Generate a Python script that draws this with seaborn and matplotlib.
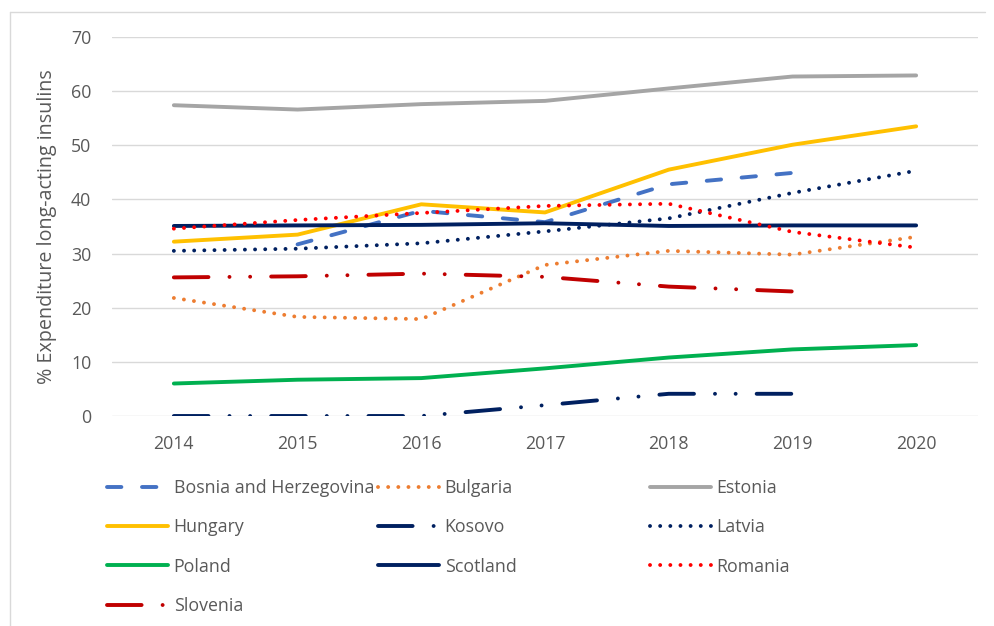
import numpy as np
import matplotlib
matplotlib.use('Agg')
import matplotlib.pyplot as plt
from matplotlib.lines import Line2D
import seaborn as sns

# Data
years = [2014, 2015, 2016, 2017, 2018, 2019, 2020]
bosnia = [np.nan, 31.7, 37.9, 35.8, 42.8, 44.9, np.nan]
bulgaria = [21.8, 18.3, 17.9, 27.9, 30.5, 29.8, 33.1]
estonia = [57.4, 56.6, 57.6, 58.2, 60.5, 62.7, 62.9]
hungary = [32.2, 33.5, 39.1, 37.6, 45.5, 50.1, 53.5]
kosovo = [0.0, 0.0, 0.0, 2.0, 4.1, 4.1, np.nan]
latvia = [30.5, 30.9, 31.9, 34.1, 36.5, 41.2, 45.3]
poland = [6.0, 6.7, 7.0, 8.8, 10.8, 12.3, 13.1]
scotland = [35.1, 35.2, 35.3, 35.6, 35.1, 35.2, 35.2]
romania = [34.6, 36.2, 37.5, 38.8, 39.2, 34.0, 31.1]
slovenia = [25.6, 25.8, 26.3, 25.7, 23.9, 23.0, np.nan]

LW = 2.8
DOT = (0, (0.01, 2.6))
LDDD = (0, (8.9, 5.4, 0.01, 5.3, 0.01, 5.4))
series = [
    ('Bosnia and Herzegovina', bosnia, '#4472C4', (0, (3.7, 5.3))),
    ('Bulgaria', bulgaria, '#ED7D31', DOT),
    ('Estonia', estonia, '#A5A5A5', '-'),
    ('Hungary', hungary, '#FFC000', '-'),
    ('Kosovo', kosovo, '#002060', LDDD),
    ('Latvia', latvia, '#002060', DOT),
    ('Poland', poland, '#00B050', '-'),
    ('Scotland', scotland, '#002060', '-'),
    ('Romania', romania, '#FF0000', DOT),
    ('Slovenia', slovenia, '#C00000', LDDD),
]

sns.set_theme(style='white')
plt.rcParams['font.family'] = ['Open Sans', 'DejaVu Sans']
TXT = '#595959'
FS = 12.8

fig = plt.figure(figsize=(9.95, 6.26), dpi=100)
ax = fig.add_axes([112 / 995, 1 - 416 / 626, 866 / 995, 379 / 626])

handles = {}
for name, vals, color, ls in series:
    sns.lineplot(x=years, y=vals, ax=ax, color=color, linewidth=LW,
                 linestyle=ls, dash_capstyle='round', solid_capstyle='round',
                 legend=False, zorder=3)
    handles[name] = ax.lines[-1]

ax.set_xlim(2013.5, 2020.5)
ax.set_ylim(0, 70)
ax.set_yticks(range(0, 71, 10))
ax.set_xticks(years)
ax.yaxis.grid(True, color='#D9D9D9', linewidth=1.0)
ax.xaxis.grid(False)
for s in ax.spines.values():
    s.set_visible(False)
ax.tick_params(axis='both', length=0, labelsize=FS, labelcolor=TXT)
ax.tick_params(axis='y', pad=15)
ax.tick_params(axis='x', pad=14)
ax.set_xlabel('')
ax.set_ylabel('% Expenditure long-acting insulins', fontsize=14.2, color=TXT)
ax.yaxis.set_label_coords(-0.064, 0.5)

# legend in three columns like the original
cols = [
    (['Bosnia and Herzegovina', 'Hungary', 'Poland', 'Slovenia'], 107),
    (['Bulgaria', 'Kosovo', 'Scotland'], 378),
    (['Estonia', 'Latvia', 'Romania'], 650),
]
for names, x0 in cols:
    leg = fig.legend([handles[n] for n in names], names, loc='upper left',
                     bbox_to_anchor=(x0 / 995, 1 - 479 / 626), frameon=False,
                     fontsize=FS, handlelength=3.45, handletextpad=0.3,
                     borderpad=0, borderaxespad=0, labelspacing=1.2)
    for t in leg.get_texts():
        t.set_color(TXT)

# chart frame (top and left edge, as in the cropped original)
fig.add_artist(Line2D([10 / 995, 985 / 995], [1 - 12 / 626, 1 - 12 / 626],
                      color='#D9D9D9', linewidth=1.0))
fig.add_artist(Line2D([10 / 995, 10 / 995], [0, 1 - 12 / 626],
                      color='#D9D9D9', linewidth=1.0))

fig.savefig('out.png', dpi=100)
